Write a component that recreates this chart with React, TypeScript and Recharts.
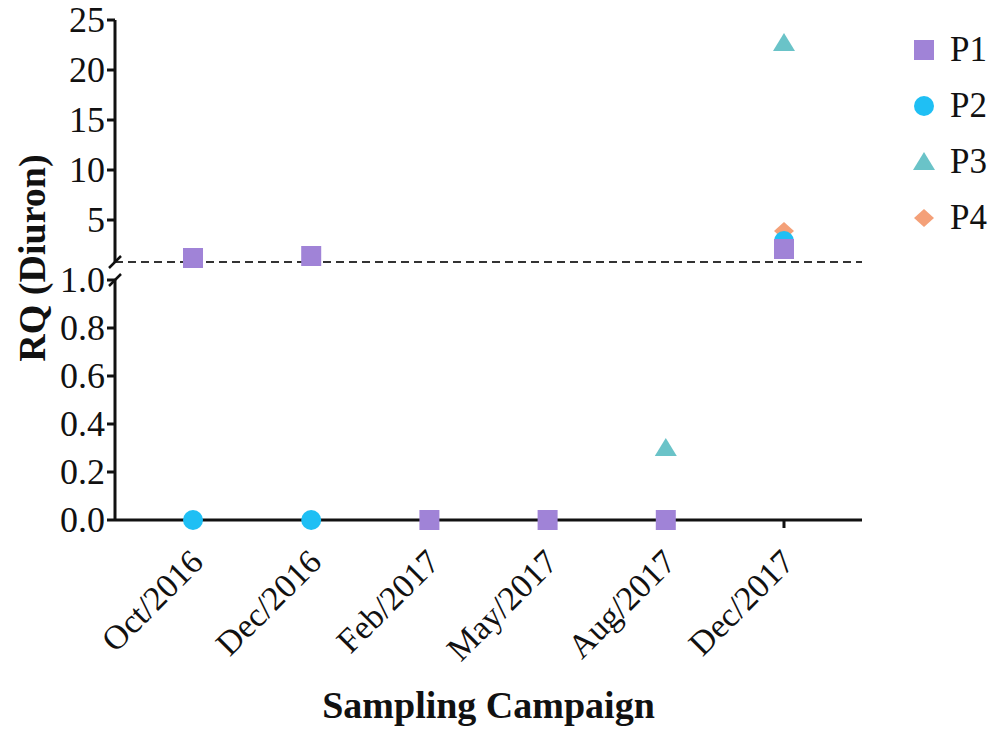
import React from "react";
import { ScatterChart, Scatter, XAxis, YAxis, ReferenceLine } from "recharts";

const campaigns = ["Oct/2016", "Dec/2016", "Feb/2017", "May/2017", "Aug/2017", "Dec/2017"];

// RQ values per campaign, null = not plotted
const p1 = [1.2, 1.4, 0, 0, 0, 2.1];
const p2 = [0, 0, null, null, null, 2.9];
const p3 = [null, null, null, null, 0.3, 22.7];
const p4 = [null, null, null, null, null, 3.9];

const upperTicks = [5, 10, 15, 20, 25];
const lowerTicks = [0, 0.2, 0.4, 0.6, 0.8, 1.0];

const FONT = "Liberation Serif, DejaVu Serif, serif";
const W = 997;
const X_DOMAIN: [number, number] = [-0.66, 5.66];
const BREAK = 0.8;

const Square = (p: any) => <rect x={p.cx - 10} y={p.cy - 10} width={20} height={20} fill={p.fill} />;
const Dot = (p: any) => <circle cx={p.cx} cy={p.cy} r={10} fill={p.fill} />;
const Tri = (p: any) => (
  <polygon points={`${p.cx},${p.cy - 10} ${p.cx + 11},${p.cy + 8} ${p.cx - 11},${p.cy + 8}`} fill={p.fill} />
);
const Diamond = (p: any) => (
  <polygon points={`${p.cx},${p.cy - 9} ${p.cx + 10},${p.cy} ${p.cx},${p.cy + 9} ${p.cx - 10},${p.cy}`} fill={p.fill} />
);

const series = [
  { name: "P1", values: p1, color: "#A083D7", shape: Square },
  { name: "P2", values: p2, color: "#1FBFF4", shape: Dot },
  { name: "P3", values: p3, color: "#6AC3C8", shape: Tri },
  { name: "P4", values: p4, color: "#F4A078", shape: Diamond },
];

const toPoints = (values: (number | null)[], upper: boolean) =>
  values
    .map((v, i) => ({ x: i, y: v }))
    .filter((d) => d.y !== null && (upper ? (d.y as number) > 1 : (d.y as number) <= 1));

const YTick = ({ x, y, payload, digits }: any) => (
  <text x={x} y={y} dy={12} textAnchor="end" style={{ fontFamily: FONT }} fontSize={36} fill="#111">
    {Number(payload.value).toFixed(digits)}
  </text>
);

const XTick = ({ x, y, payload }: any) => (
  <g transform={`translate(${x},${y})`}>
    <text
      x={12}
      y={34}
      textAnchor="end"
      transform="rotate(-45 12 34)"
      style={{ fontFamily: FONT }}
      fontSize={34}
      fill="#111"
    >
      {campaigns[payload.value]}
    </text>
  </g>
);

const axisStroke = { stroke: "#111", strokeWidth: 3 };

export default function App() {
  // draw P4 first so P1 ends up on top, as in the figure
  const drawOrder = [...series].reverse();
  return (
    <div style={{ position: "absolute", left: 0, top: 0, width: W, height: 730, background: "#fff", fontFamily: FONT }}>
      <div style={{ position: "absolute", left: 0, top: 0 }}>
        <ScatterChart width={W} height={272} margin={{ top: 20, right: 135, bottom: 10, left: 0 }}>
          <XAxis type="number" dataKey="x" domain={X_DOMAIN} hide />
          <YAxis
            type="number"
            dataKey="y"
            domain={[BREAK, 25]}
            ticks={upperTicks}
            width={115}
            axisLine={axisStroke}
            tickLine={axisStroke}
            tickSize={8}
            tick={<YTick digits={0} />}
          />
          <ReferenceLine y={BREAK} stroke="#333" strokeWidth={2} strokeDasharray="8 5" />
          {drawOrder.map((s) => (
            <Scatter
              key={s.name}
              name={s.name}
              data={toPoints(s.values, true)}
              fill={s.color}
              shape={s.shape}
              isAnimationActive={false}
            />
          ))}
        </ScatterChart>
      </div>

      <div style={{ position: "absolute", left: 0, top: 240 }}>
        <ScatterChart width={W} height={490} margin={{ top: 40, right: 135, bottom: 0, left: 0 }}>
          <XAxis
            type="number"
            dataKey="x"
            domain={X_DOMAIN}
            ticks={campaigns.map((_, i) => i)}
            height={210}
            axisLine={axisStroke}
            tickLine={axisStroke}
            tickSize={8}
            tickMargin={2}
            tick={<XTick />}
            label={{
              value: "Sampling Campaign",
              position: "insideBottom",
              offset: 12,
              style: { fontFamily: FONT },
              fontSize: 38,
              fontWeight: "bold",
              fill: "#111",
            }}
          />
          <YAxis
            type="number"
            dataKey="y"
            domain={[0, 1]}
            ticks={lowerTicks}
            width={115}
            axisLine={axisStroke}
            tickLine={axisStroke}
            tickSize={8}
            tick={<YTick digits={1} />}
          />
          {drawOrder.map((s) => (
            <Scatter
              key={s.name}
              name={s.name}
              data={toPoints(s.values, false)}
              fill={s.color}
              shape={s.shape}
              isAnimationActive={false}
            />
          ))}
        </ScatterChart>
      </div>

      {/* y title and axis-break marks */}
      <svg width={W} height={730} style={{ position: "absolute", left: 0, top: 0, pointerEvents: "none" }}>
        <text
          x={32}
          y={258}
          transform="rotate(-90 32 258)"
          textAnchor="middle"
          dominantBaseline="central"
          style={{ fontFamily: FONT }}
          fontSize={38}
          fontWeight="bold"
          fill="#111"
        >
          RQ (Diuron)
        </text>
        <line x1={109} y1={268} x2={121} y2={256} stroke="#111" strokeWidth={2.5} />
        <line x1={109} y1={286} x2={121} y2={274} stroke="#111" strokeWidth={2.5} />
      </svg>

      {/* legend */}
      <div style={{ position: "absolute", left: 912, top: 22, fontSize: 35, color: "#111" }}>
        {series.map((s) => (
          <div key={s.name} style={{ display: "flex", alignItems: "center", height: 56 }}>
            <svg width={24} height={24} style={{ marginRight: 14 }}>
              <s.shape cx={12} cy={12} fill={s.color} />
            </svg>
            <span>{s.name}</span>
          </div>
        ))}
      </div>
    </div>
  );
}
